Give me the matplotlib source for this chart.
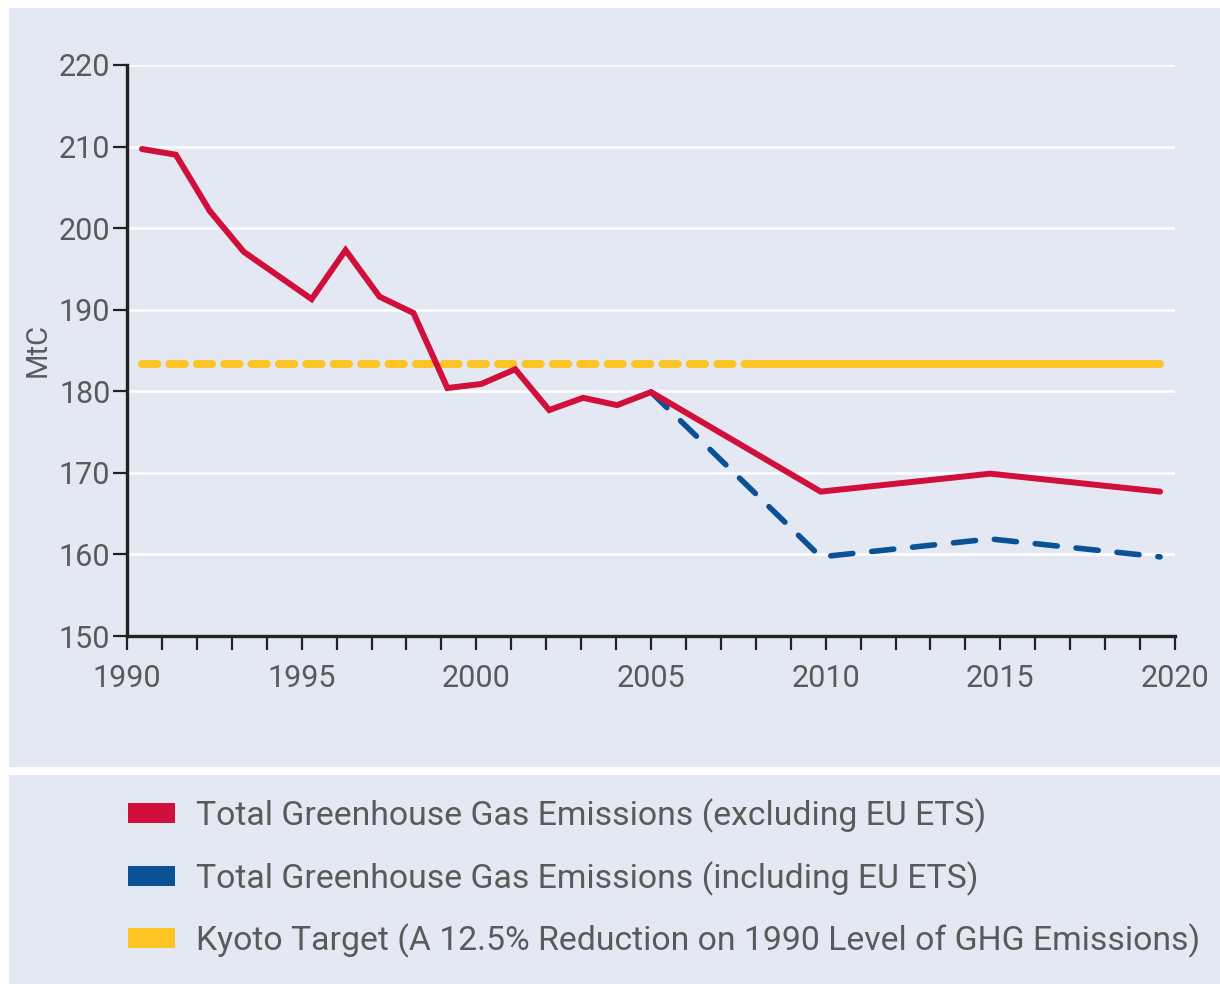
import numpy as np
import matplotlib.pyplot as plt
from matplotlib.patches import Rectangle, Patch

plt.rcParams['font.family'] = ['Roboto', 'DejaVu Sans']

# emissions excluding EU ETS (MtC)
years_ex = [1990, 1991, 1992, 1993, 1994, 1995, 1996, 1997, 1998, 1999, 2000,
            2001, 2002, 2003, 2004, 2005, 2010, 2015, 2020]
ghg_ex = [209.7, 209.0, 202.1, 197.1, 194.2, 191.3, 197.3, 191.6, 189.6, 180.4,
          180.9, 182.7, 177.7, 179.2, 178.3, 179.9, 167.7, 169.9, 167.7]

# emissions including EU ETS (projection)
years_in = [2005, 2010, 2015, 2020]
ghg_in = [179.9, 159.7, 161.9, 159.7]

# Kyoto target
kyoto = 183.4
kyoto_dash_years = [1990, 2008.2]
kyoto_solid_years = [2008.2, 2020]

year_labels = ['1990', '1995', '2000', '2005', '2010', '2015', '2020']
legend_labels = ['Total Greenhouse Gas Emissions (excluding EU ETS)',
                 'Total Greenhouse Gas Emissions (including EU ETS)',
                 'Kyoto Target (A 12.5% Reduction on 1990 Level of GHG Emissions)']

red = '#d0103a'
blue = '#0a5196'
yellow = '#fcc425'
panel = '#e4e8f3'
txt = '#5a5a5a'

fig = plt.figure(figsize=(12.2, 9.84), dpi=100)
fig.patches.append(Rectangle((9/1220, 1-767/984), 1, 759/984, transform=fig.transFigure,
                             facecolor=panel, edgecolor='none', zorder=-10))
fig.patches.append(Rectangle((9/1220, 0), 1, 1-775/984, transform=fig.transFigure,
                             facecolor=panel, edgecolor='none', zorder=-10))

ax = fig.add_axes([127/1220, 1-636/984, 1048/1220, 571/984])
ax.set_facecolor('none')

x0, x1 = 1989.56, 2020.44
ax.set_xlim(x0, x1)
ax.set_ylim(150, 220)

for v in range(160, 221, 10):
    ax.axhline(v, color='white', lw=1.8, zorder=0)

ax.plot(kyoto_dash_years, [kyoto, kyoto], color=yellow, lw=5.8,
        dashes=(1.9, 1.5), dash_capstyle='round', zorder=2)
ax.plot(kyoto_solid_years, [kyoto, kyoto], color=yellow, lw=5.8,
        solid_capstyle='round', zorder=2)
ax.plot(years_in, ghg_in, color=blue, lw=4, dashes=(4.0, 3.4),
        dash_capstyle='round', zorder=3)
ax.plot(years_ex, ghg_ex, color=red, lw=4.3, solid_joinstyle='miter',
        solid_capstyle='round', zorder=4)

ticks = np.linspace(x0, x1, 31)
ax.set_xticks(ticks)
ax.set_xticklabels([year_labels[i // 5] if i % 5 == 0 else '' for i in range(31)])
ax.set_yticks(range(150, 221, 10))

for s in ['top', 'right']:
    ax.spines[s].set_visible(False)
for s in ['left', 'bottom']:
    ax.spines[s].set_linewidth(2.4)
    ax.spines[s].set_color('#222222')
ax.tick_params(axis='both', colors='#222222', width=1.6, length=10,
               labelcolor=txt, labelsize=22)
ax.tick_params(axis='x', pad=10)
ax.tick_params(axis='y', pad=2)

fig.text(38/1220, 1-350/984, 'MtC', rotation=90, ha='center', va='center',
         fontsize=21, color=txt)

handles = [Patch(facecolor=c, edgecolor='none') for c in (red, blue, yellow)]
leg = fig.legend(handles, legend_labels, loc='upper left',
                 bbox_to_anchor=(114/1220, 1-785/984), frameon=False,
                 fontsize=24.3, handlelength=1.42, handleheight=0.54,
                 handletextpad=0.6, labelspacing=0.83, borderaxespad=0)
for t in leg.get_texts():
    t.set_color(txt)

fig.savefig('out.png', dpi=100)
